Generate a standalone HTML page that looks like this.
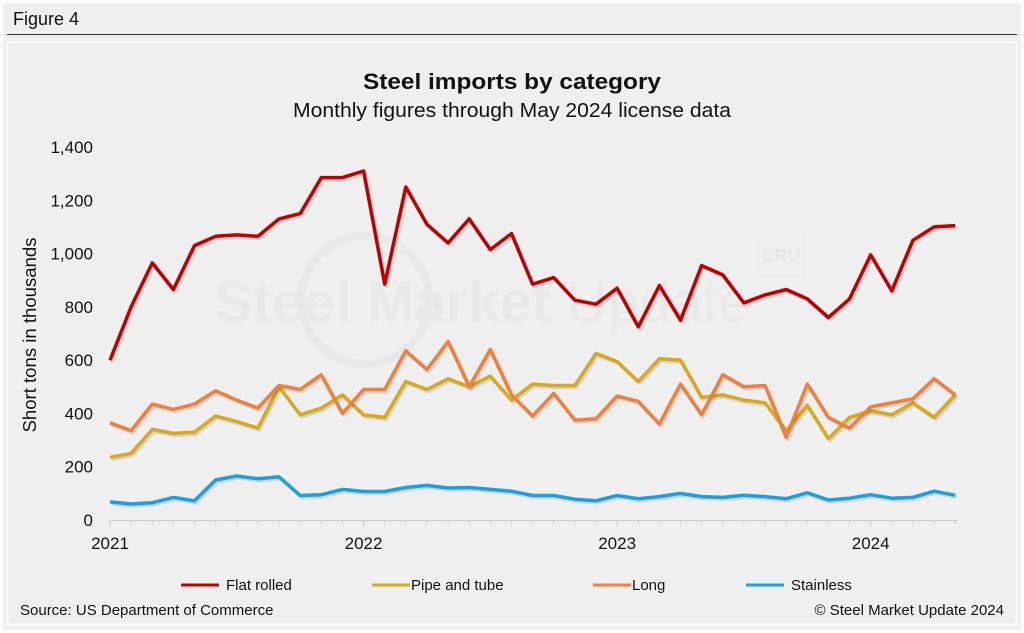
<!DOCTYPE html>
<html><head><meta charset="utf-8"><style>
body{margin:0;width:1024px;height:633px;background:#fff;font-family:"Liberation Sans",Arial,sans-serif;overflow:hidden}
#outer{position:absolute;left:3px;top:3px;width:1018px;height:627px;background:#efefef}
</style></head><body>
<div id="outer"></div>
<svg width="1024" height="633" style="position:absolute;left:0;top:0">
<text x="13" y="25" font-size="18" fill="#111">Figure 4</text>
<line x1="7" y1="34.5" x2="1017" y2="34.5" stroke="#333" stroke-width="1"/>
<rect x="7.5" y="42.5" width="1009" height="582" fill="none" stroke="#fff" stroke-width="1.5"/>
<text x="363" y="89" font-size="22" font-weight="bold" fill="#111" textLength="298" lengthAdjust="spacingAndGlyphs">Steel imports by category</text>
<text x="293" y="117" font-size="20" fill="#111" textLength="438" lengthAdjust="spacingAndGlyphs">Monthly figures through May 2024 license data</text>
<g opacity="0.5">
<circle cx="365" cy="300" r="64" fill="none" stroke="#e2e2e2" stroke-width="8"/>
<text x="215" y="322" font-size="58" font-weight="bold" fill="#e3e3e3" textLength="535" lengthAdjust="spacingAndGlyphs">Steel Market <tspan font-weight="normal">Update</tspan></text>
<rect x="758" y="233" width="46" height="44" rx="3" fill="none" stroke="#e2e2e2"/>
<text x="781" y="262" font-size="18" font-weight="bold" text-anchor="middle" fill="#ddd">CRU</text>
</g>
<text transform="translate(36,335) rotate(-90)" font-size="18" text-anchor="middle" fill="#111" textLength="195" lengthAdjust="spacingAndGlyphs">Short tons in thousands</text>
<g id="yt"></g><g id="xt"></g><g id="series"></g>
<g font-size="15" fill="#111">
<g><line x1="181" y1="585" x2="219" y2="585" stroke="#c00000" stroke-width="3"/><text x="226" y="590">Flat rolled</text></g>
<g><line x1="372" y1="585" x2="410" y2="585" stroke="#d9a81c" stroke-width="3"/><text x="411" y="590">Pipe and tube</text></g>
<g><line x1="593" y1="585" x2="631" y2="585" stroke="#f07f3c" stroke-width="3"/><text x="632" y="590">Long</text></g>
<g><line x1="746" y1="585" x2="784" y2="585" stroke="#1aa0dc" stroke-width="3"/><text x="791" y="590">Stainless</text></g>
</g>
<text x="20" y="615" font-size="15" fill="#111">Source: US Department of Commerce</text>
<text x="1004" y="615" font-size="15" text-anchor="end" fill="#111">© Steel Market Update 2024</text>
</svg>
<script>
const yTicks=[0,200,400,600,800,1000,1200,1400];
const yTickLabels=["0","200","400","600","800","1,000","1,200","1,400"];
const xYears=["2021","2022","2023","2024"];
const flatRolled=[600,800,965,865,1030,1065,1070,1065,1130,1150,1285,1285,1310,885,1250,1110,1040,1130,1015,1075,885,910,825,810,870,725,880,750,955,920,815,845,865,830,760,830,995,860,1050,1100,1105];
const pipeAndTube=[235,250,340,325,330,390,370,345,500,395,420,470,395,385,520,490,530,500,540,450,510,505,505,625,595,520,605,600,460,470,450,440,335,430,305,385,410,395,440,385,470];
const longProducts=[365,335,435,415,435,485,450,420,505,490,545,400,490,490,635,565,670,500,640,470,390,475,375,380,465,445,360,510,395,545,500,505,310,510,385,345,425,440,455,530,470];
const stainless=[68,60,65,85,72,150,165,155,162,92,95,115,107,107,122,130,120,122,115,108,92,92,78,72,92,80,88,100,88,85,93,88,80,102,75,82,95,82,85,108,93];
const NS="http://www.w3.org/2000/svg";
const x0=110,monthW=21.13,y0=520,yScale=373/1400;
const xs=i=>x0+i*monthW, ys=v=>y0-v*yScale;
function mk(t,a,p){const e=document.createElementNS(NS,t);for(const k in a)e.setAttribute(k,a[k]);p.appendChild(e);return e;}
const yt=document.getElementById('yt');
yTicks.forEach((v,i)=>{const t=mk('text',{x:93,y:ys(v)+6,'font-size':17,'text-anchor':'end',fill:'#111'},yt);t.textContent=yTickLabels[i];

});
const xt=document.getElementById('xt');
const ax=mk('line',{x1:x0,y1:y0+0.5,x2:xs(40)+2,y2:y0+0.5,stroke:'#ccc','stroke-width':1},xt);


for(let i=0;i<=40;i++){const big=i%12===0;const tk=mk('line',{x1:xs(i),y1:y0,x2:xs(i),y2:y0+(big?7:4),stroke:'#ccc'},xt);

}
xYears.forEach((y,i)=>{const t=mk('text',{x:xs(i*12),y:y0+29,'font-size':17,'text-anchor':'middle',fill:'#111'},xt);t.textContent=y;

});
const sg=document.getElementById('series');
[[flatRolled,'#c00000','line-flat-rolled'],[pipeAndTube,'#d9a81c','line-pipe-and-tube'],[longProducts,'#f07f3c','line-long'],[stainless,'#1aa0dc','line-stainless']].forEach(([d,c,n])=>{
const pts=d.map((v,i)=>xs(i).toFixed(1)+','+ys(v).toFixed(1)).join(' ');
mk('polyline',{points:pts,fill:'none',stroke:'rgba(0,0,0,0.12)','stroke-width':3.5,transform:'translate(1.5,2)','stroke-linejoin':'round'},sg);
const p=mk('polyline',{points:pts,fill:'none',stroke:c,'stroke-width':3.5,'stroke-linejoin':'round'},sg);

});
</script>
</body></html>
